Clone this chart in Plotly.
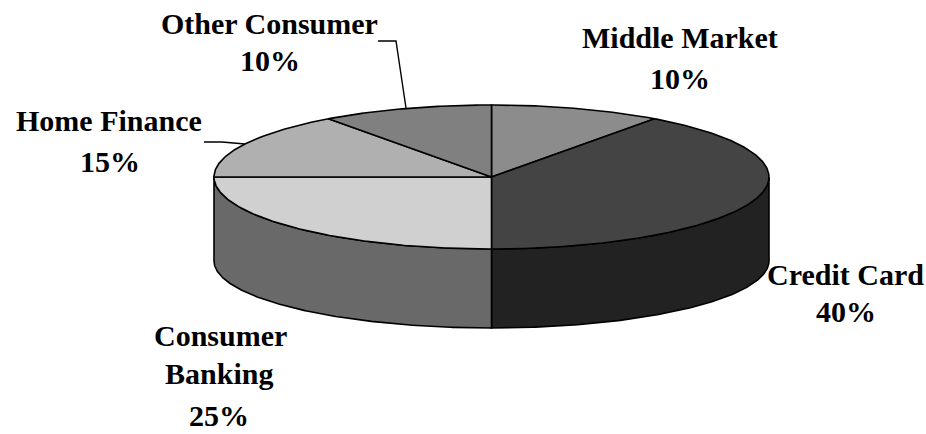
import numpy as np
import plotly.graph_objects as go

# Data
categories = ["Middle Market", "Credit Card", "Consumer Banking", "Home Finance", "Other Consumer"]
shares = [10, 40, 25, 15, 10]

# Styles and layout
top_colors = ["#8c8c8c", "#444444", "#d0d0d0", "#b0b0b0", "#808080"]
side_colors = ["#5a5a5a", "#222222", "#696969", "#707070", "#505050"]
label_lines = [
    (["Middle Market", "10%"], [680, 680], [37, 78]),
    (["Credit Card", "40%"], [845, 846], [274, 311]),
    (["Consumer", "Banking", "25%"], [220, 219, 219], [335, 373, 415]),
    (["Home Finance", "15%"], [109, 110], [120, 161]),
    (["Other Consumer", "10%"], [269, 270], [23, 60]),
]
leaders = [([378, 396, 406], [41, 41, 108]), ([204, 222, 245], [142, 142, 144])]
CX, TOP_CY, TOP_RY, RX = 491.5, 177, 72, 277.5
BOT_CY, BOT_RY = 261, 67
FONT = dict(family="Liberation Serif", size=30, color="black")


def arc(a0, a1, cy, ry):
    t = np.radians(np.linspace(a0, a1, max(int(abs(a1 - a0) * 2), 2)))
    return CX + RX * np.sin(t), cy - ry * np.cos(t)


fig = go.Figure()
edges = np.cumsum([0] + shares) / sum(shares) * 360


def add_poly(x, y, color):
    fig.add_trace(go.Scatter(
        x=list(x), y=list(y), mode="lines", fill="toself", fillcolor=color,
        line=dict(color="black", width=1.6), hoverinfo="skip", showlegend=False,
    ))


# Visible walls (front half of the pie, 90 to 270 degrees)
for i in range(len(shares)):
    a0, a1 = max(edges[i], 90), min(edges[i + 1], 270)
    if a1 > a0:
        tx, ty = arc(a0, a1, TOP_CY, TOP_RY)
        bx, by = arc(a0, a1, BOT_CY, BOT_RY)
        add_poly(np.r_[tx, bx[::-1], tx[0]], np.r_[ty, by[::-1], ty[0]], side_colors[i])

# Top slices
for i in range(len(shares)):
    tx, ty = arc(edges[i], edges[i + 1], TOP_CY, TOP_RY)
    add_poly(np.r_[CX, tx, CX], np.r_[TOP_CY, ty, TOP_CY], top_colors[i])

# Leader lines
for lx, ly in leaders:
    fig.add_trace(go.Scatter(x=lx, y=ly, mode="lines", line=dict(color="black", width=1.4),
                             hoverinfo="skip", showlegend=False))

# Labels
for lines, xs, ys in label_lines:
    for text, x, y in zip(lines, xs, ys):
        fig.add_annotation(x=x, y=y, text=f"<b>{text}</b>", showarrow=False,
                           xanchor="center", yanchor="middle", font=FONT)

fig.update_layout(
    width=926, height=434, margin=dict(l=0, r=0, t=0, b=0),
    paper_bgcolor="white", plot_bgcolor="white", showlegend=False,
    xaxis=dict(range=[0, 926], visible=False, fixedrange=True),
    yaxis=dict(range=[434, 0], visible=False, fixedrange=True),
)
fig.write_html("out.html", config=dict(displayModeBar=False),
               post_script="document.documentElement.style.margin='0';document.body.style.margin='0';document.body.style.overflow='hidden';")
